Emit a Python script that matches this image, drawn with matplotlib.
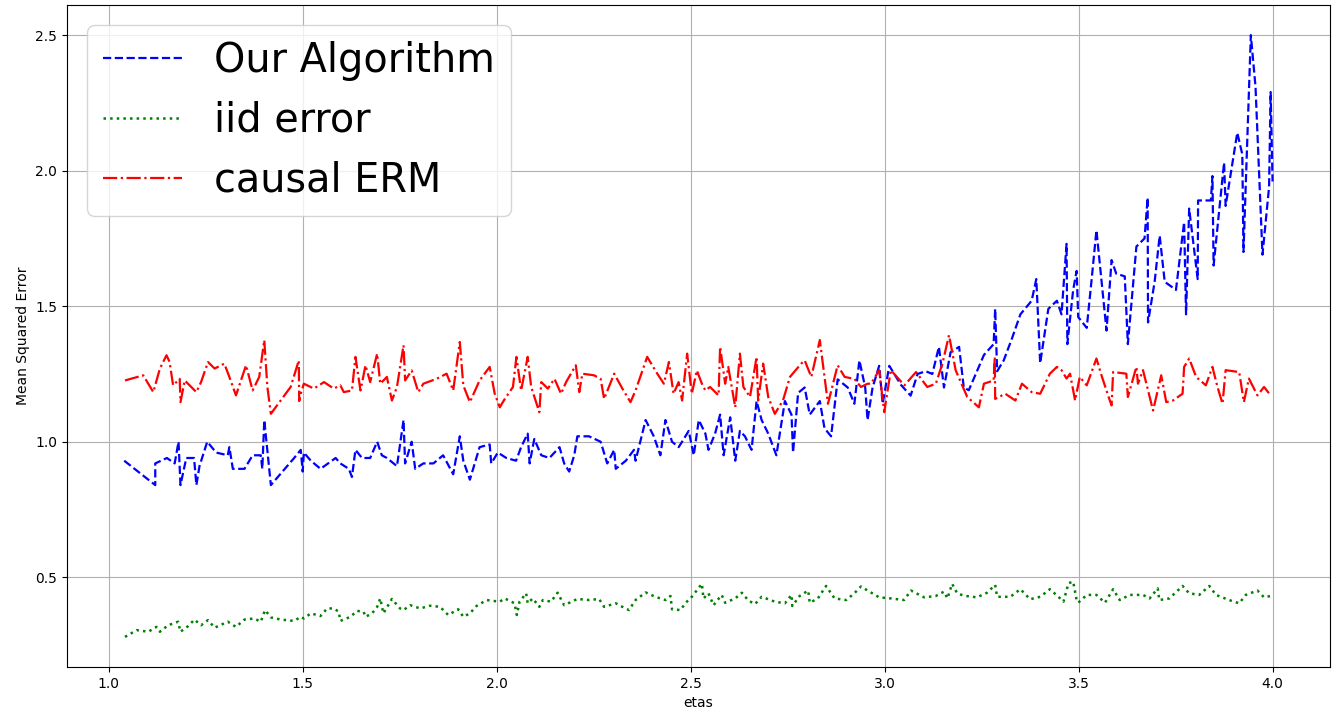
import numpy as np
import matplotlib
matplotlib.use("Agg")
import matplotlib.pyplot as plt

# Our Algorithm (blue, dashed)
etas_alg = [1.04, 1.12, 1.12, 1.15, 1.17, 1.18, 1.185, 1.20, 1.22, 1.226, 1.234, 1.254, 1.277,
            1.307, 1.311, 1.32, 1.35, 1.371, 1.392, 1.396, 1.401, 1.418, 1.478, 1.495,
            1.50, 1.503, 1.521, 1.546, 1.585, 1.597, 1.619, 1.627, 1.636, 1.653, 1.674, 1.692,
            1.704, 1.717, 1.743, 1.76, 1.764, 1.781, 1.79, 1.811, 1.837, 1.862, 1.888, 1.905,
            1.914, 1.931, 1.956, 1.982, 1.986, 2.003, 2.025, 2.05, 2.063, 2.08, 2.085, 2.097,
            2.115, 2.136, 2.162, 2.174, 2.187, 2.2, 2.208, 2.238, 2.268, 2.285, 2.303, 2.307,
            2.333, 2.354, 2.358, 2.384, 2.405, 2.422, 2.435, 2.452, 2.469, 2.478, 2.495, 2.508,
            2.521, 2.538, 2.546, 2.563, 2.576, 2.585, 2.602, 2.615, 2.627, 2.64, 2.657, 2.67,
            2.683, 2.7, 2.721, 2.743, 2.76, 2.764, 2.777, 2.794, 2.807, 2.833, 2.845, 2.862,
            2.879, 2.905, 2.922, 2.935, 2.95, 2.956, 2.969, 2.986, 2.995, 3.012, 3.042, 3.067,
            3.085, 3.106, 3.123, 3.14, 3.153, 3.17, 3.192, 3.204, 3.217, 3.256, 3.281, 3.285,
            3.29, 3.307, 3.328, 3.35, 3.379, 3.391, 3.401, 3.422, 3.444, 3.456, 3.469, 3.471,
            3.486, 3.495, 3.499, 3.521, 3.533, 3.546, 3.572, 3.585, 3.597, 3.619, 3.627, 3.649,
            3.67, 3.678, 3.679, 3.696, 3.709, 3.722, 3.751, 3.772, 3.777, 3.785, 3.807, 3.808,
            3.841, 3.845, 3.848, 3.875, 3.879, 3.909, 3.922, 3.925, 3.944, 3.956, 3.974, 3.991,
            3.995, 4.0]
mse_alg = [0.93, 0.84, 0.92, 0.94, 0.92, 1.00, 0.84, 0.94, 0.94, 0.84, 0.91, 1.00, 0.96,
           0.95, 0.98, 0.90, 0.90, 0.95, 0.95, 0.90, 1.08, 0.84, 0.94, 0.97,
           0.89, 0.96, 0.93, 0.90, 0.94, 0.92, 0.90, 0.87, 0.97, 0.94, 0.94, 1.00,
           0.95, 0.94, 0.91, 1.08, 0.92, 1.00, 0.90, 0.92, 0.92, 0.95, 0.88, 1.02,
           0.93, 0.86, 0.98, 0.99, 0.92, 0.96, 0.94, 0.93, 0.98, 1.03, 0.92, 1.01,
           0.95, 0.94, 0.98, 0.92, 0.89, 0.95, 1.02, 1.02, 1.00, 0.92, 0.97, 0.90,
           0.93, 0.97, 0.93, 1.08, 1.02, 0.95, 1.08, 1.00, 0.98, 1.00, 1.04, 0.95,
           1.08, 1.03, 0.97, 1.03, 1.10, 0.95, 1.09, 0.93, 1.04, 1.02, 0.97, 1.15,
           1.08, 1.03, 0.95, 1.15, 1.10, 0.96, 1.18, 1.20, 1.10, 1.15, 1.05, 1.02,
           1.23, 1.20, 1.14, 1.30, 1.20, 1.08, 1.20, 1.28, 1.14, 1.28, 1.21, 1.17,
           1.25, 1.26, 1.25, 1.35, 1.20, 1.33, 1.35, 1.20, 1.19, 1.32, 1.36, 1.49,
           1.26, 1.30, 1.38, 1.47, 1.52, 1.60, 1.29, 1.49, 1.52, 1.47, 1.73, 1.36,
           1.56, 1.63, 1.46, 1.42, 1.59, 1.78, 1.41, 1.67, 1.62, 1.61, 1.36, 1.72,
           1.75, 1.90, 1.44, 1.59, 1.76, 1.59, 1.56, 1.81, 1.47, 1.86, 1.60, 1.89,
           1.89, 1.98, 1.65, 2.03, 1.87, 2.14, 2.06, 1.70, 2.50, 2.31, 1.69, 1.94,
           2.29, 1.96]

# iid error (green, dotted)
etas_iid = [1.042, 1.072, 1.102, 1.123, 1.132, 1.153, 1.179, 1.185, 1.204, 1.221, 1.238, 1.256,
            1.273, 1.307, 1.328, 1.35, 1.375, 1.392, 1.403, 1.418, 1.444, 1.478, 1.495, 1.503,
            1.521, 1.546, 1.563, 1.58, 1.593, 1.597, 1.623, 1.64, 1.657, 1.662, 1.679, 1.692,
            1.70, 1.708, 1.73, 1.751, 1.76, 1.777, 1.803, 1.828, 1.854, 1.875, 1.901, 1.914,
            1.931, 1.948, 1.974, 2.008, 2.021, 2.046, 2.052, 2.059, 2.076, 2.08, 2.093, 2.11,
            2.119, 2.14, 2.157, 2.174, 2.208, 2.238, 2.264, 2.277, 2.307, 2.324, 2.341, 2.358,
            2.384, 2.409, 2.435, 2.448, 2.452, 2.474, 2.486, 2.503, 2.529, 2.533, 2.546, 2.559,
            2.58, 2.589, 2.615, 2.632, 2.649, 2.666, 2.683, 2.717, 2.743, 2.76, 2.762, 2.781,
            2.803, 2.807, 2.828, 2.849, 2.871, 2.901, 2.922, 2.939, 2.961, 2.986, 3.016, 3.05,
            3.068, 3.102, 3.132, 3.153, 3.162, 3.174, 3.187, 3.204, 3.238, 3.264, 3.285, 3.29,
            3.324, 3.35, 3.375, 3.401, 3.426, 3.448, 3.461, 3.474, 3.486, 3.495, 3.499, 3.521,
            3.546, 3.568, 3.589, 3.606, 3.632, 3.666, 3.683, 3.704, 3.708, 3.734, 3.768, 3.785,
            3.811, 3.837, 3.854, 3.888, 3.914, 3.931, 3.961, 3.978, 3.995]
mse_iid = [0.28, 0.305, 0.299, 0.317, 0.299, 0.323, 0.336, 0.299, 0.319, 0.344, 0.323, 0.342,
           0.314, 0.336, 0.317, 0.344, 0.348, 0.336, 0.379, 0.352, 0.344, 0.339, 0.354, 0.348,
           0.367, 0.357, 0.385, 0.385, 0.373, 0.339, 0.354, 0.376, 0.373, 0.354, 0.367, 0.391,
           0.422, 0.367, 0.42, 0.385, 0.379, 0.397, 0.385, 0.395, 0.391, 0.361, 0.382, 0.354,
           0.367, 0.394, 0.416, 0.41, 0.422, 0.404, 0.361, 0.41, 0.441, 0.404, 0.422, 0.391,
           0.416, 0.41, 0.443, 0.397, 0.42, 0.416, 0.42, 0.391, 0.404, 0.391, 0.379, 0.416,
           0.444, 0.428, 0.416, 0.431, 0.382, 0.379, 0.404, 0.428, 0.476, 0.422, 0.441, 0.397,
           0.435, 0.406, 0.422, 0.443, 0.414, 0.401, 0.428, 0.41, 0.404, 0.435, 0.394, 0.431,
           0.451, 0.406, 0.422, 0.468, 0.422, 0.416, 0.441, 0.466, 0.447, 0.426, 0.422, 0.416,
           0.451, 0.426, 0.431, 0.447, 0.422, 0.476, 0.441, 0.432, 0.426, 0.443, 0.472, 0.428,
           0.428, 0.456, 0.419, 0.428, 0.456, 0.428, 0.41, 0.478, 0.484, 0.416, 0.406, 0.435,
           0.435, 0.406, 0.456, 0.416, 0.435, 0.435, 0.422, 0.459, 0.416, 0.422, 0.468, 0.441,
           0.435, 0.468, 0.435, 0.416, 0.404, 0.435, 0.451, 0.426, 0.431]

# causal ERM (red, dash-dot)
etas_erm = [1.042, 1.089, 1.115, 1.132, 1.149, 1.157, 1.166, 1.183, 1.185, 1.196, 1.226, 1.238,
            1.256, 1.273, 1.298, 1.311, 1.328, 1.354, 1.371, 1.388, 1.401, 1.409, 1.418, 1.469,
            1.49, 1.491, 1.495, 1.503, 1.529, 1.555, 1.58, 1.597, 1.606, 1.627, 1.636, 1.649,
            1.662, 1.674, 1.692, 1.70, 1.717, 1.73, 1.743, 1.76, 1.764, 1.781, 1.798, 1.811,
            1.845, 1.871, 1.888, 1.905, 1.914, 1.931, 1.956, 1.982, 1.995, 2.008, 2.021, 2.042,
            2.051, 2.063, 2.08, 2.089, 2.11, 2.115, 2.132, 2.149, 2.166, 2.179, 2.204, 2.213,
            2.221, 2.251, 2.268, 2.277, 2.303, 2.324, 2.345, 2.358, 2.388, 2.414, 2.431, 2.444,
            2.456, 2.469, 2.478, 2.491, 2.503, 2.516, 2.529, 2.538, 2.55, 2.572, 2.576, 2.589,
            2.597, 2.615, 2.627, 2.636, 2.653, 2.67, 2.674, 2.687, 2.70, 2.717, 2.738, 2.756,
            2.785, 2.794, 2.811, 2.833, 2.845, 2.854, 2.879, 2.897, 2.922, 2.939, 2.956, 2.965,
            2.986, 2.999, 3.016, 3.051, 3.081, 3.11, 3.132, 3.149, 3.166, 3.183, 3.213, 3.243,
            3.256, 3.281, 3.284, 3.285, 3.311, 3.337, 3.354, 3.379, 3.401, 3.426, 3.444, 3.456,
            3.469, 3.478, 3.491, 3.503, 3.521, 3.546, 3.559, 3.576, 3.585, 3.589, 3.623, 3.627,
            3.649, 3.653, 3.666, 3.679, 3.692, 3.713, 3.726, 3.743, 3.768, 3.772, 3.785, 3.803,
            3.828, 3.845, 3.858, 3.871, 3.879, 3.914, 3.926, 3.939, 3.961, 3.978, 3.995]
mse_erm = [1.226, 1.245, 1.183, 1.27, 1.319, 1.294, 1.208, 1.232, 1.146, 1.226, 1.183, 1.22,
           1.294, 1.27, 1.288, 1.239, 1.171, 1.282, 1.189, 1.239, 1.375, 1.202, 1.103, 1.202,
           1.30, 1.15, 1.177, 1.214, 1.196, 1.22, 1.196, 1.208, 1.183, 1.189, 1.313, 1.189,
           1.282, 1.22, 1.325, 1.214, 1.239, 1.152, 1.202, 1.356, 1.226, 1.263, 1.183, 1.214,
           1.232, 1.251, 1.189, 1.368, 1.208, 1.146, 1.226, 1.276, 1.177, 1.127, 1.158, 1.202,
           1.313, 1.189, 1.313, 1.202, 1.109, 1.22, 1.196, 1.232, 1.177, 1.22, 1.282, 1.183,
           1.251, 1.245, 1.232, 1.158, 1.251, 1.196, 1.146, 1.189, 1.313, 1.251, 1.214, 1.294,
           1.177, 1.22, 1.152, 1.325, 1.177, 1.263, 1.214, 1.189, 1.202, 1.171, 1.35, 1.214,
           1.276, 1.127, 1.325, 1.202, 1.165, 1.313, 1.152, 1.288, 1.165, 1.103, 1.152, 1.239,
           1.288, 1.30, 1.239, 1.375, 1.239, 1.14, 1.282, 1.239, 1.232, 1.202, 1.214, 1.214,
           1.264, 1.109, 1.264, 1.208, 1.257, 1.202, 1.214, 1.288, 1.393, 1.264, 1.165, 1.127,
           1.214, 1.226, 1.313, 1.158, 1.177, 1.152, 1.214, 1.183, 1.177, 1.251, 1.276, 1.264,
           1.233, 1.251, 1.152, 1.239, 1.208, 1.307, 1.245, 1.171, 1.134, 1.257, 1.251, 1.165,
           1.276, 1.214, 1.264, 1.189, 1.115, 1.245, 1.146, 1.152, 1.177, 1.276, 1.307, 1.239,
           1.208, 1.276, 1.202, 1.14, 1.264, 1.257, 1.146, 1.233, 1.171, 1.202, 1.171]

fig, ax = plt.subplots(figsize=(13.36, 7.13), dpi=100)
fig.subplots_adjust(left=0.050, right=0.9955, bottom=0.0645, top=0.993)

ax.plot(etas_alg, mse_alg, '--', color='b', linewidth=1.6, label='Our Algorithm')
ax.plot(etas_iid, mse_iid, ':', color='g', linewidth=1.8, label='iid error')
ax.plot(etas_erm, mse_erm, '-.', color='r', linewidth=1.6, label='causal ERM')

ax.set_xlabel('etas')
ax.set_ylabel('Mean Squared Error')
ax.grid(True)
ax.legend(loc='upper left', fontsize=28.6)

fig.savefig('out.png', dpi=100)
